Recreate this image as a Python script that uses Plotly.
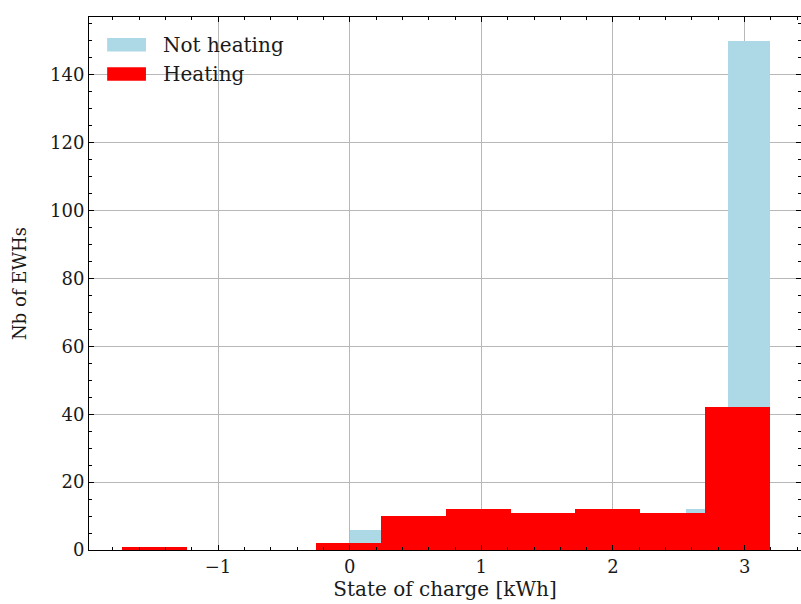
import plotly.graph_objects as go

# Histogram of electric water heater state of charge, split by heating status.
# Bin edges (kWh) and counts for each group.
heating_edges = [-1.73, -1.238, -0.746, -0.254, 0.238, 0.730, 1.222, 1.714, 2.206, 2.698, 3.19]
heating_counts = [1, 0, 0, 2, 10, 12, 11, 12, 11, 42]

not_heating_edges = [0.0, 0.319, 0.638, 0.957, 1.276, 1.595, 1.914, 2.233, 2.552, 2.871, 3.19]
not_heating_counts = [6, 5, 4, 6, 5, 7, 6, 8, 12, 150]

x_ticks = [-1, 0, 1, 2, 3]
y_ticks = [0, 20, 40, 60, 80, 100, 120, 140]

FONT = "DejaVu Serif"
TEXT = "#1a1a1a"
BLUE = "#add8e6"
RED = "#ff0000"


def bar_trace(edges, counts, color, name):
    centers = [(a + b) / 2 for a, b in zip(edges[:-1], edges[1:])]
    widths = [b - a for a, b in zip(edges[:-1], edges[1:])]
    return go.Bar(
        x=centers, y=counts, width=widths, name=name,
        marker=dict(color=color, line=dict(width=0)),
        showlegend=False,
    )


fig = go.Figure()
fig.add_trace(bar_trace(not_heating_edges, not_heating_counts, BLUE, "Not heating"))
fig.add_trace(bar_trace(heating_edges, heating_counts, RED, "Heating"))

axis_common = dict(
    showline=True, linecolor="black", linewidth=1, mirror="allticks",
    ticks="inside", ticklen=5, tickwidth=1, tickcolor="black",
    showgrid=True, gridcolor="#b8b8b8", gridwidth=1, zeroline=False,
    tickfont=dict(family=FONT, size=18, color=TEXT),
)

fig.update_xaxes(
    range=[-1.98, 3.428], tickvals=x_ticks,
    ticktext=["\u22121", "0", "1", "2", "3"],
    minor=dict(ticks="inside", dtick=0.2, tick0=0, ticklen=3, tickcolor="black", showgrid=False),
    title=dict(text="State of charge [kWh]", font=dict(family=FONT, size=20, color=TEXT), standoff=5),
    **axis_common,
)
fig.update_yaxes(
    range=[0, 157], tickvals=y_ticks,
    minor=dict(ticks="inside", dtick=5, tick0=0, ticklen=3, tickcolor="black", showgrid=False),
    title=dict(text="Nb of EWHs", font=dict(family=FONT, size=18, color=TEXT), standoff=18),
    **axis_common,
)

# Legend drawn as patches with labels in the upper-left corner of the axes
legend_items = [("Not heating", BLUE, 0.948), ("Heating", RED, 0.893)]
for label, color, yc in legend_items:
    fig.add_shape(type="rect", xref="paper", yref="paper",
                  x0=0.0255, x1=0.080, y0=yc - 0.0125, y1=yc + 0.0125,
                  fillcolor=color, line=dict(width=0), layer="above")
    fig.add_annotation(xref="paper", yref="paper", x=0.101, y=yc,
                       text=label, showarrow=False, xanchor="left", yanchor="middle",
                       font=dict(family=FONT, size=20, color=TEXT))

fig.update_layout(
    width=801, height=604,
    margin=dict(l=89, r=0, t=17, b=54),
    paper_bgcolor="white", plot_bgcolor="white",
    barmode="overlay", bargap=0,
)

fig.write_html("out.html")
